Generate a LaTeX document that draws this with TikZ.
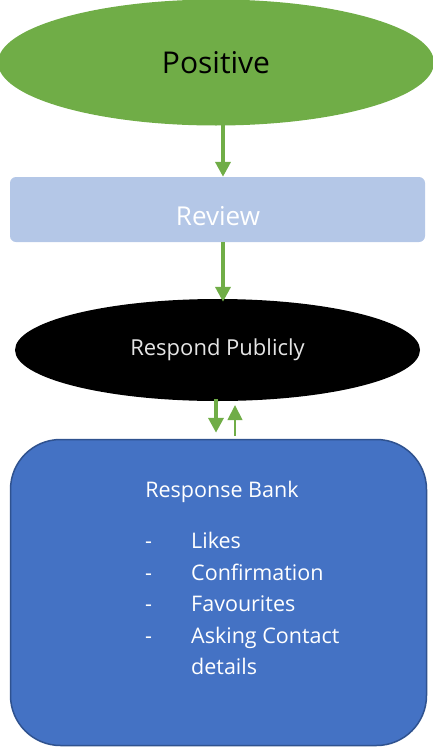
\documentclass[tikz,border=0pt]{standalone}
\usepackage{fontspec}
\setmainfont{Open Sans}
\usetikzlibrary{arrows.meta,shapes.geometric}
\definecolor{leaf}{HTML}{70AD47}
\definecolor{paleblue}{HTML}{B4C7E7}
\definecolor{bankblue}{HTML}{4472C4}
\definecolor{bankedge}{HTML}{2F528F}
\tikzset{
  flow/.style={draw=leaf, line width=4pt, -{Triangle[width=15pt,length=15pt]}},
  backflow/.style={draw=leaf, line width=1.6pt, -{Triangle[width=15pt,length=15pt]}},
  oval/.style={ellipse, inner sep=0pt},
  banktext/.style={font=\fontsize{21.5}{26}\selectfont, text=white, inner sep=0pt},
}
\begin{document}
\begin{tikzpicture}[x=1pt,y=-1pt]
\useasboundingbox (0,0) rectangle (432,747);
% top ellipse
\node[oval, fill=leaf, minimum width=436pt, minimum height=126pt,
      font=\fontsize{30}{36}\selectfont, text=black] (pos) at (216,62.5) {Positive};
% review bar
\node[fill=paleblue, rounded corners=6pt, minimum width=415pt, minimum height=65pt,
      inner sep=0pt] (rev) at (217.5,209.5) {};
\node[font=\fontsize{26}{30}\selectfont, text=white, inner sep=0pt] (revt) at (218,216) {Review};
% black ellipse
\node[oval, fill=black, minimum width=405pt, minimum height=102pt,
      font=\fontsize{22}{26}\selectfont, text=white!90!black] (pub) at (217.5,350) {Respond Publicly};
% response bank
\node[draw=bankedge, line width=1.5pt, fill=bankblue, rounded corners=50pt,
      minimum width=416pt, minimum height=306pt, inner sep=0pt] (bank) at (218.5,592.5) {};
\node[banktext, anchor=base] (title) at (222,497) {Response Bank};
\foreach \t [count=\i] in {Likes,Confirmation,Favourites,Asking Contact} {
  \node[banktext, anchor=base west] (d\i) at (145,{517+31.5*\i}) {-};
  \node[banktext, anchor=base west] (it\i) at (191,{517+31.5*\i}) {\t};
}
\node[banktext, anchor=base west] (it5) at (191,674.5) {details};
% connectors
\coordinate (ax) at (223,0);
\coordinate (dn) at (216,0);
\coordinate (up) at (235,0);
\draw[flow] (pos.south -| ax) ++(0,-4) -- (rev.north -| ax);
\draw[flow] (rev.south -| ax) -- ([yshift=-3pt]pub.north -| ax);
\draw[flow] ([yshift=2pt]pub.south -| dn) -- ([yshift=6pt]bank.north -| dn);
\draw[backflow] ([yshift=3pt]bank.north -| up) -- ([yshift=-4pt]pub.south -| up);
\end{tikzpicture}
\end{document}
